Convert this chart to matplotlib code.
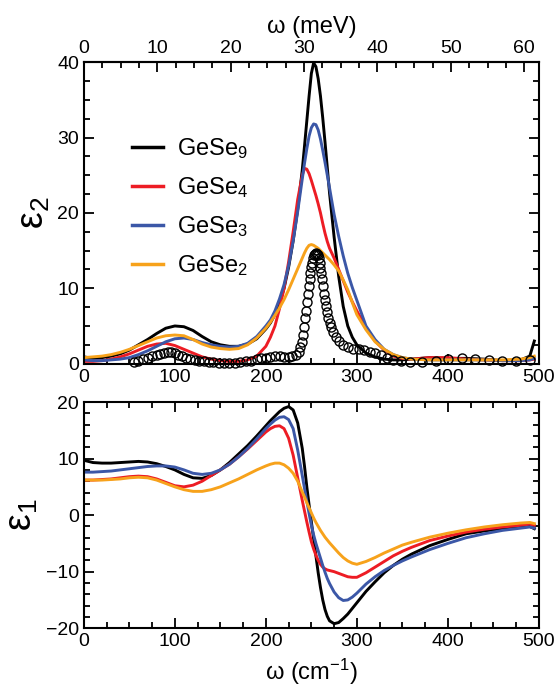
import numpy as np
import matplotlib
matplotlib.use('Agg')
import matplotlib.pyplot as plt
from matplotlib.ticker import MultipleLocator, FixedLocator

plt.rcParams['font.family'] = ['Liberation Sans', 'DejaVu Sans']
plt.rcParams['mathtext.fontset'] = 'custom'
plt.rcParams['mathtext.rm'] = 'Liberation Sans'
plt.rcParams['mathtext.it'] = 'Liberation Sans'

# frequency grid (cm^-1) for the calculated spectra
w = [0, 10, 20, 30, 40, 50, 60, 70, 80, 90, 100, 110, 120, 130, 140, 150, 160, 170, 180, 190,
     200, 205, 210, 215, 220, 225, 230, 235, 240, 242.5, 245, 247.5, 250, 252.5, 255, 257.5,
     260, 262.5, 265, 267.5, 270, 275, 280, 285, 290, 295, 300,
     310, 320, 330, 340, 350, 360, 380, 400, 420, 440, 460, 480, 490, 495]

# epsilon_2
e2_gese9 = [0.9, 0.7, 0.8, 1.0, 1.3, 1.8, 2.5, 3.2, 4.0, 4.7, 5.0, 4.9, 4.4, 3.6, 2.9, 2.5, 2.3, 2.3, 2.6, 3.3,
            4.6, 5.4, 6.5, 8.0, 10.0, 12.8, 16.3, 20.5, 25.7, 28.9, 32.2, 35.5, 38.5, 39.9, 39.4, 37.8,
            35.5, 32.6, 29.4, 26.0, 22.6, 16.8, 11.6, 7.6, 5.0, 3.5, 2.5,
            1.4, 0.9, 0.6, 0.5, 0.5, 0.6, 0.8, 0.7, 0.7, 0.6, 0.4, 0.5, 1.0, 3.0]
e2_gese4 = [0.3, 0.3, 0.4, 0.6, 0.9, 1.3, 1.8, 2.3, 2.6, 2.7, 2.4, 1.9, 1.4, 0.9, 0.6, 0.4, 0.3, 0.3, 0.5, 1.0,
            2.3, 3.5, 5.0, 7.3, 10.0, 13.5, 17.5, 21.8, 25.0, 25.9, 25.8, 25.2, 24.3, 23.3, 22.3, 21.2,
            20.0, 18.6, 17.3, 16.2, 15.3, 14.0, 12.5, 11.0, 9.5, 8.2, 7.0,
            4.8, 3.0, 1.8, 1.0, 0.7, 0.6, 0.8, 0.8, 0.6, 0.5, 0.4, 0.4, 0.5, 0.6]
e2_gese3 = [0.5, 0.4, 0.4, 0.5, 0.6, 0.8, 1.2, 1.7, 2.3, 2.9, 3.3, 3.4, 3.2, 2.8, 2.5, 2.3, 2.2, 2.3, 2.7, 3.6,
            5.0, 5.8, 7.0, 8.6, 10.5, 13.0, 16.3, 20.2, 24.5, 26.6, 28.5, 30.2, 31.3, 31.8, 31.7, 31.0,
            29.8, 28.3, 26.7, 25.0, 23.3, 19.8, 16.9, 14.3, 12.0, 10.1, 8.4,
            5.0, 3.2, 1.9, 1.2, 0.8, 0.6, 0.5, 0.5, 0.5, 0.5, 0.4, 0.4, 0.5, 0.7]
e2_gese2 = [0.8, 0.9, 1.0, 1.2, 1.5, 1.9, 2.4, 2.9, 3.4, 3.7, 3.8, 3.7, 3.2, 2.6, 2.2, 2.0, 1.9, 2.0, 2.5, 3.4,
            4.7, 5.5, 6.4, 7.4, 8.5, 9.8, 11.2, 12.6, 14.0, 14.7, 15.3, 15.7, 15.8, 15.7, 15.5, 15.3,
            15.0, 14.7, 14.4, 14.1, 13.8, 13.1, 12.3, 11.1, 9.8, 8.1, 6.5,
            4.5, 2.9, 1.9, 1.2, 0.8, 0.6, 0.5, 0.5, 0.5, 0.5, 0.5, 0.6, 0.8, 1.0]

# epsilon_1
e1_gese9 = [9.7, 9.3, 9.2, 9.2, 9.3, 9.4, 9.5, 9.4, 9.1, 8.6, 8.0, 7.2, 6.6, 6.5, 7.0, 8.0, 9.3, 10.8, 12.3, 14.0,
            15.8, 16.7, 17.5, 18.3, 18.9, 19.2, 18.6, 16.3, 11.8, 8.6, 5.0, 1.8, -1.2, -4.2, -7.2, -10.2,
            -12.8, -15.0, -16.7, -17.9, -18.7, -19.2, -19.0, -18.3, -17.5, -16.5, -15.5,
            -13.5, -11.8, -10.2, -8.9, -7.8, -6.9, -5.4, -4.3, -3.3, -2.8, -2.4, -2.1, -2.0, -2.4]
e1_gese4 = [6.2, 6.2, 6.3, 6.4, 6.6, 6.8, 6.9, 6.8, 6.4, 5.8, 5.2, 5.0, 5.3, 6.0, 7.0, 8.0, 9.0, 10.3, 11.7, 13.2,
            14.7, 15.3, 15.7, 15.8, 15.3, 13.6, 10.6, 6.6, 2.6, 0.7, -1.2, -3.0, -4.7, -6.0, -7.1, -8.0,
            -8.7, -9.2, -9.5, -9.7, -9.8, -10.0, -10.3, -10.6, -10.9, -11.0, -11.0,
            -10.2, -9.2, -8.2, -7.2, -6.4, -5.7, -4.5, -3.7, -3.0, -2.5, -2.1, -1.8, -1.6, -1.8]
e1_gese3 = [7.6, 7.6, 7.7, 7.8, 8.0, 8.2, 8.4, 8.6, 8.7, 8.7, 8.5, 8.0, 7.4, 7.2, 7.4, 8.0, 9.0, 10.3, 11.8, 13.5,
            15.3, 16.1, 16.8, 17.3, 17.4, 16.9, 15.3, 11.5, 7.0, 4.7, 2.5, 0.3, -1.8, -3.5, -5.0, -6.3,
            -7.6, -8.9, -10.1, -11.2, -12.1, -13.6, -14.6, -15.1, -15.0, -14.5, -13.8,
            -12.2, -10.9, -9.8, -8.9, -8.1, -7.4, -6.1, -5.0, -4.0, -3.3, -2.7, -2.3, -2.1, -2.3]
e1_gese2 = [6.2, 6.2, 6.2, 6.3, 6.4, 6.6, 6.7, 6.6, 6.2, 5.6, 5.0, 4.5, 4.2, 4.2, 4.5, 5.0, 5.7, 6.4, 7.2, 8.0,
            8.7, 9.0, 9.2, 9.2, 8.9, 8.3, 7.4, 6.0, 4.1, 3.2, 2.2, 1.3, 0.4, -0.5, -1.3, -2.0,
            -2.7, -3.3, -3.9, -4.4, -4.9, -5.8, -6.7, -7.5, -8.1, -8.5, -8.7,
            -8.2, -7.5, -6.7, -6.0, -5.3, -4.8, -3.9, -3.2, -2.6, -2.1, -1.7, -1.4, -1.3, -1.5]

# experimental epsilon_2 (open circles)
exp_w = [55, 60, 65, 70, 75, 80, 84, 88, 92, 96, 100, 104, 108, 112, 117, 122, 127, 132, 137, 142,
         148, 154, 160, 166, 172, 178, 184, 190, 195, 200, 205, 210, 215, 220, 225, 229, 233, 236, 238, 240,
         241, 242, 243, 244, 245, 246, 247, 248, 249, 250, 251, 252, 253, 254, 255, 256, 257, 258, 259, 260,
         261, 262, 263, 264, 265, 266, 267, 268, 270, 272, 274, 277, 280, 285, 290, 296, 302, 308, 314, 320,
         326, 333, 340, 348, 358, 372, 387, 400, 415, 430, 445, 460, 475, 490]
exp_e2 = [0.2, 0.4, 0.6, 0.8, 1.0, 1.2, 1.3, 1.4, 1.5, 1.5, 1.4, 1.2, 1.0, 0.8, 0.6, 0.5, 0.4, 0.3, 0.2, 0.2,
          0.1, 0.1, 0.1, 0.1, 0.2, 0.3, 0.4, 0.6, 0.7, 0.8, 0.9, 1.0, 1.0, 0.9, 0.9, 1.0, 1.2, 1.6, 2.2, 2.9,
          3.8, 4.8, 6.0, 7.0, 8.2, 9.3, 10.3, 11.2, 12.0, 12.8, 13.4, 14.0, 14.4, 14.6, 14.7, 14.6, 14.4, 14.0, 13.4, 12.7,
          12.0, 11.2, 10.3, 9.3, 8.4, 7.6, 6.8, 6.1, 5.4, 4.8, 4.2, 3.6, 3.0, 2.5, 2.2, 2.0, 1.9, 1.8, 1.6, 1.4,
          1.1, 0.8, 0.5, 0.3, 0.2, 0.2, 0.4, 0.6, 0.7, 0.6, 0.5, 0.4, 0.4, 0.5]

labels = ['GeSe$_9$', 'GeSe$_4$', 'GeSe$_3$', 'GeSe$_2$']
colors = ['#000000', '#ed1c24', '#3b57a7', '#f7a21b']
mev_ticks = [0, 10, 20, 30, 40, 50, 60]

cm_per_mev = 8.0655

fig = plt.figure(figsize=(5.59, 6.98), dpi=100)
ax1 = fig.add_axes([0.150, 0.479, 0.814, 0.432])
ax2 = fig.add_axes([0.150, 0.100, 0.814, 0.324])

# 上面板: eps2
for y, c, lab in zip([e2_gese9, e2_gese4, e2_gese3, e2_gese2], colors, labels):
    ax1.plot(w, y, color=c, lw=2.1, label=lab)
ax1.plot(exp_w, exp_e2, 'o', mfc='none', mec='black', ms=6.5, mew=1.0, clip_on=False)

ax1.set_xlim(0, 500)
ax1.set_ylim(0, 40)
ax1.xaxis.set_major_locator(MultipleLocator(100))
ax1.xaxis.set_minor_locator(MultipleLocator(25))
ax1.yaxis.set_major_locator(MultipleLocator(10))
ax1.yaxis.set_minor_locator(MultipleLocator(2.5))
ax1.set_ylabel(r'$\mathrm{ε_2}$', fontsize=27, labelpad=4)
ax1.tick_params(which='both', direction='in', top=False, right=True, labelsize=14, width=1.3)
ax1.tick_params(which='major', length=7)
ax1.tick_params(which='minor', length=4)

top = ax1.secondary_xaxis('top', functions=(lambda x: x / cm_per_mev, lambda x: x * cm_per_mev))
top.xaxis.set_major_locator(FixedLocator(mev_ticks))
top.xaxis.set_minor_locator(FixedLocator([m + d for m in mev_ticks[:-1] for d in (2.5, 5.0, 7.5)]))
top.tick_params(which='both', direction='in', labelsize=14, width=1.3)
top.tick_params(which='major', length=7)
top.tick_params(which='minor', length=4)
top.set_xlabel('ω (meV)', fontsize=17, labelpad=5)
top.spines['top'].set_linewidth(1.5)

leg = ax1.legend(loc='upper left', bbox_to_anchor=(0.086, 0.785), frameon=False, fontsize=17,
                 handlelength=1.3, handletextpad=0.6, labelspacing=0.6, borderaxespad=0)
for line in leg.get_lines():
    line.set_linewidth(2.5)

# 下面板: eps1
for y, c in zip([e1_gese9, e1_gese4, e1_gese3, e1_gese2], colors):
    ax2.plot(w, y, color=c, lw=2.1)

ax2.set_xlim(0, 500)
ax2.set_ylim(-20, 20)
ax2.xaxis.set_major_locator(MultipleLocator(100))
ax2.xaxis.set_minor_locator(MultipleLocator(25))
ax2.yaxis.set_major_locator(MultipleLocator(10))
ax2.yaxis.set_minor_locator(MultipleLocator(2))
ax2.set_ylabel(r'$\mathrm{ε_1}$', fontsize=27, labelpad=4)
ax2.set_xlabel('ω (cm$^{-1}$)', fontsize=17, labelpad=5)
ax2.tick_params(which='both', direction='in', top=True, right=True, labelsize=14, width=1.3)
ax2.tick_params(which='major', length=7)
ax2.tick_params(which='minor', length=4)

for ax in (ax1, ax2):
    for s in ax.spines.values():
        s.set_linewidth(1.5)

fig.savefig('out.png', dpi=100)
